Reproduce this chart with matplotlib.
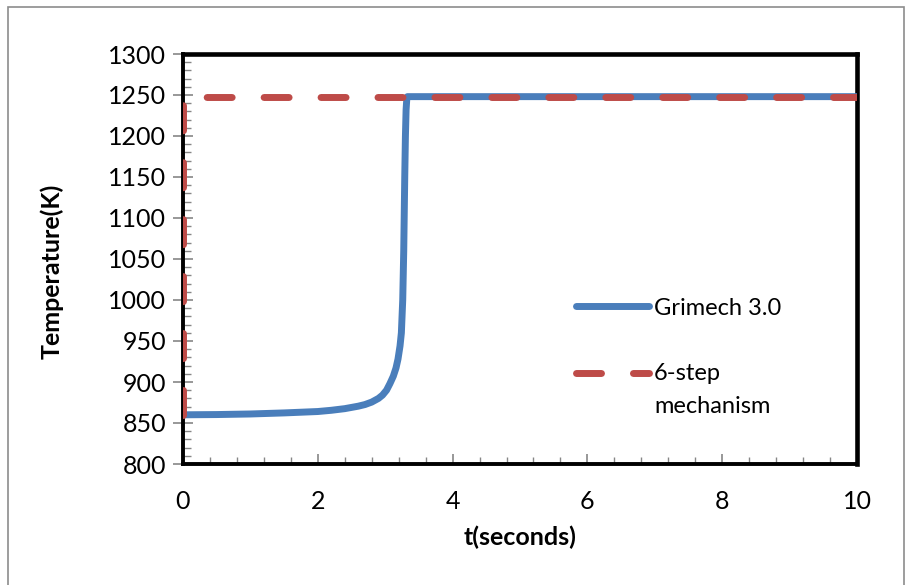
import matplotlib
matplotlib.use("Agg")
import matplotlib.pyplot as plt
from matplotlib.patches import Rectangle
from matplotlib.ticker import MultipleLocator

# Temperature histories (t in seconds, T in K)
t_grimech = [0, 0.5, 1.0, 1.5, 2.0, 2.2, 2.4, 2.6, 2.7, 2.8, 2.9, 2.96, 3.02, 3.07,
             3.12, 3.16, 3.19, 3.22, 3.24, 3.26, 3.275, 3.29, 3.30, 3.31, 3.32, 3.33, 10]
T_grimech = [860, 860.3, 861, 862.3, 864, 865.5, 867.5, 870.5, 872.5, 875.5, 880, 884, 890, 898,
             907, 917, 928, 944, 960, 1000, 1060, 1150, 1200, 1232, 1245, 1248, 1248]

t_6step = [0, 0, 10]
T_6step = [860, 1248, 1248]

label_grimech = "Grimech 3.0"
label_6step = "6-step\nmechanism"

plt.rcParams['font.family'] = ['Lato', 'DejaVu Sans']

W, H = 906, 585
fig = plt.figure(figsize=(W / 100, H / 100), dpi=100)
ax = fig.add_axes([183 / W, 1 - 464 / H, (857 - 183) / W, (464 - 54) / H])

blue = '#4a7ebb'
red = '#be4b48'
lw = 5.0

ax.plot(t_grimech, T_grimech, color=blue, lw=lw, solid_capstyle='round',
        solid_joinstyle='round', label=label_grimech, zorder=3)
ax.plot(t_6step, T_6step, color=red, lw=lw, dashes=(3.6, 4.6),
        dash_capstyle='round', label=label_6step, zorder=4)

ax.set_xlim(0, 10)
ax.set_ylim(800, 1300)
ax.xaxis.set_major_locator(MultipleLocator(2))
ax.xaxis.set_minor_locator(MultipleLocator(0.4))
ax.yaxis.set_major_locator(MultipleLocator(50))
ax.yaxis.set_minor_locator(MultipleLocator(10))

tick_color = '#868686'
ax.tick_params(axis='y', which='major', direction='inout', length=14, width=1.2,
               color=tick_color, labelsize=18, pad=5)
ax.tick_params(axis='y', which='minor', direction='in', length=6, width=1.0,
               color=tick_color)
ax.tick_params(axis='x', which='major', direction='in', length=7, width=1.2,
               color=tick_color, labelsize=18, pad=19)
ax.tick_params(axis='x', which='minor', direction='in', length=5, width=1.0,
               color=tick_color)

for s in ax.spines.values():
    s.set_color('black')
    s.set_linewidth(2.8)
ax.spines['top'].set_linewidth(3.3)
ax.spines['right'].set_linewidth(3.3)

# axis titles
fig.text(520 / W, 1 - 537 / H, 't(seconds)', fontsize=18, fontweight='bold',
         ha='center', va='center')
fig.text(52 / W, 1 - 271 / H, 'Temperature(K)', fontsize=18, fontweight='bold',
         ha='center', va='center', rotation=90)

leg = ax.legend(loc='upper left', bbox_to_anchor=(559 / W, 1 - 281 / H),
                bbox_transform=fig.transFigure, frameon=False, fontsize=17,
                handlelength=3.1, handletextpad=0.22, labelspacing=1.9,
                borderpad=0.2)
for txt in leg.get_texts():
    txt.set_linespacing(1.7)
# keep the dashed key level with the first line of its label
h = leg.legend_handles[1]
h.set_ydata([y + 12.5 for y in h.get_ydata()])

# outer chart frame
fig.patches.append(Rectangle((8 / W, -0.05), (904 - 8) / W, 1.05 - 7 / H,
                             transform=fig.transFigure, fill=False,
                             edgecolor='#8c8c8c', lw=1.2))

fig.savefig('out.png', dpi=100)
